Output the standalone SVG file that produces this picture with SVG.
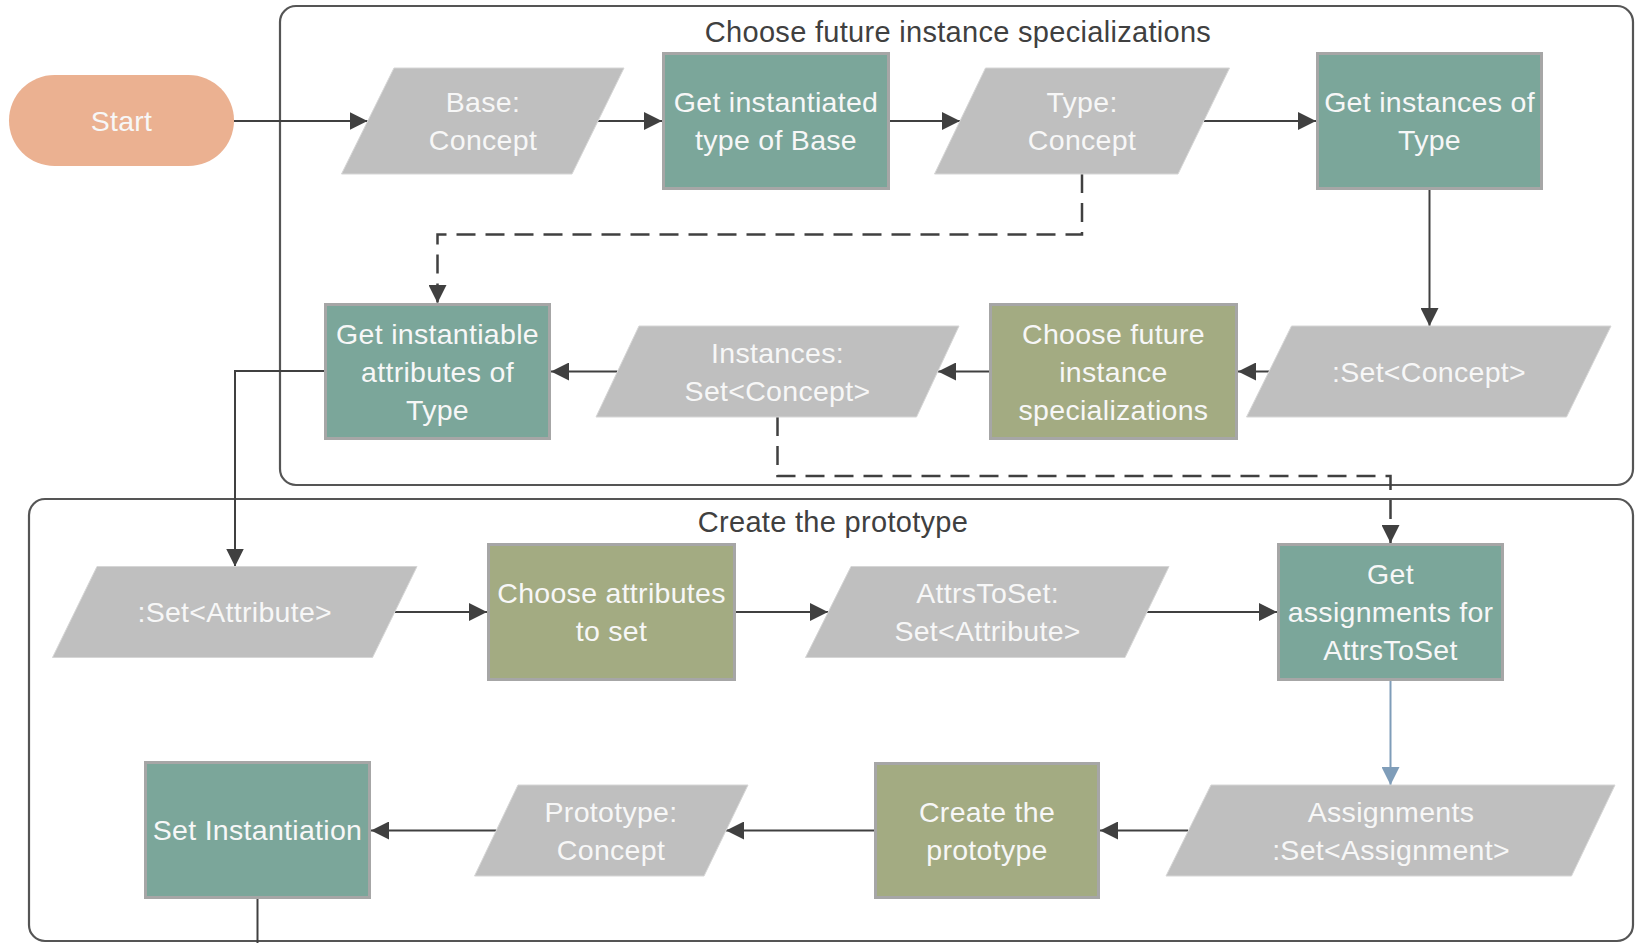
<svg xmlns="http://www.w3.org/2000/svg" width="1636" height="943" viewBox="0 0 1636 943">
<style>
text{font-family:"Liberation Sans",Arial,sans-serif;font-size:28.5px;letter-spacing:0.3px;text-anchor:middle}
.t{fill:#F7F7F7}
.title{fill:#404040;font-size:29px}
.box{stroke:#A6A6A6;stroke-width:3}
.teal{fill:#7BA69A}
.olive{fill:#A3AB82}
.data{fill:#BFBFBF;stroke:#D6D6D6;stroke-width:1}
.cont{fill:none;stroke:#555555;stroke-width:2.2}
.c{fill:none;stroke:#404040;stroke-width:2}
.d{stroke-dasharray:19 10;stroke-width:2.5}
.blue{stroke:#7F9DB9}
</style>
<defs>
<marker id="a" markerUnits="userSpaceOnUse" markerWidth="18" markerHeight="18" refX="18" refY="9" orient="auto"><path d="M0,0 L18,9 L0,18 z" fill="#404040"/></marker>
<marker id="ab" markerUnits="userSpaceOnUse" markerWidth="18" markerHeight="18" refX="18" refY="9" orient="auto"><path d="M0,0 L18,9 L0,18 z" fill="#7F9DB9"/></marker>
</defs>
<g id="container-choose">
<rect class="cont" x="280" y="6" width="1353" height="479" rx="16"/>
<text class="title" x="958" y="42">Choose future instance specializations</text>
</g>
<g id="container-create">
<rect class="cont" x="29" y="499" width="1604" height="442" rx="16"/>
<text class="title" x="833" y="532">Create the prototype</text>
</g>
<g id="connectors">
<path class="c" d="M234,121 H367.5" marker-end="url(#a)"/>
<path class="c" d="M598,121 H662" marker-end="url(#a)"/>
<path class="c" d="M890,121 H960" marker-end="url(#a)"/>
<path class="c" d="M1204,121 H1316" marker-end="url(#a)"/>
<path class="c" d="M1429.5,190 V326" marker-end="url(#a)"/>
<path class="c" d="M1269,371.5 H1238" marker-end="url(#a)"/>
<path class="c" d="M989,371.5 H938" marker-end="url(#a)"/>
<path class="c" d="M617.5,371.5 H551" marker-end="url(#a)"/>
<path class="c d" d="M1082,174 V234.5 H437.5 V303" marker-end="url(#a)"/>
<path class="c d" d="M777.5,417 V476 H1390.5 V543" marker-end="url(#a)"/>
<path class="c" d="M324,371 H235 V566.5" marker-end="url(#a)"/>
<path class="c" d="M395,612 H487" marker-end="url(#a)"/>
<path class="c" d="M736,612 H828" marker-end="url(#a)"/>
<path class="c" d="M1147,612 H1277" marker-end="url(#a)"/>
<path class="c blue" d="M1390.5,681 V785" marker-end="url(#ab)"/>
<path class="c" d="M1188,830.5 H1100" marker-end="url(#a)"/>
<path class="c" d="M874,830.5 H726" marker-end="url(#a)"/>
<path class="c" d="M496.5,830.5 H371" marker-end="url(#a)"/>
<path class="c" d="M257.5,899 V943"/>
</g>
<g id="start">
<rect x="9" y="75" width="225" height="91" rx="45.5" fill="#EBB191"/>
<text class="t" x="121.5" y="131">Start</text>
</g>
<g id="base">
<polygon class="data" points="394,68 624,68 572,174 341.5,174"/>
<text class="t" x="483" y="112">Base:</text>
<text class="t" x="483" y="150">Concept</text>
</g>
<g id="get-instantiated-type">
<rect class="box teal" x="663.5" y="53.5" width="225" height="135"/>
<text class="t" x="776" y="112">Get instantiated</text>
<text class="t" x="776" y="150">type of Base</text>
</g>
<g id="type">
<polygon class="data" points="985.5,68 1229.5,68 1178,174 934.5,174"/>
<text class="t" x="1082" y="112">Type:</text>
<text class="t" x="1082" y="150">Concept</text>
</g>
<g id="get-instances">
<rect class="box teal" x="1317.5" y="53.5" width="224" height="135"/>
<text class="t" x="1429.5" y="112">Get instances of</text>
<text class="t" x="1429.5" y="150">Type</text>
</g>
<g id="set-concept">
<polygon class="data" points="1291.5,326 1611,326 1566.5,417 1246.5,417"/>
<text class="t" x="1429" y="381.5">:Set&lt;Concept&gt;</text>
</g>
<g id="choose-future">
<rect class="box olive" x="990.5" y="304.5" width="246" height="134"/>
<text class="t" x="1113.5" y="343.5">Choose future</text>
<text class="t" x="1113.5" y="381.5">instance</text>
<text class="t" x="1113.5" y="419.5">specializations</text>
</g>
<g id="instances">
<polygon class="data" points="639,326 959,326 916.5,417 596,417"/>
<text class="t" x="777.5" y="362.5">Instances:</text>
<text class="t" x="777.5" y="400.5">Set&lt;Concept&gt;</text>
</g>
<g id="get-instantiable">
<rect class="box teal" x="325.5" y="304.5" width="224" height="134"/>
<text class="t" x="437.5" y="343.5">Get instantiable</text>
<text class="t" x="437.5" y="381.5">attributes of</text>
<text class="t" x="437.5" y="419.5">Type</text>
</g>
<g id="set-attribute">
<polygon class="data" points="97,566.5 417,566.5 372.5,657.5 52.5,657.5"/>
<text class="t" x="234.75" y="622">:Set&lt;Attribute&gt;</text>
</g>
<g id="choose-attributes">
<rect class="box olive" x="488.5" y="544.5" width="246" height="135"/>
<text class="t" x="611.5" y="603">Choose attributes</text>
<text class="t" x="611.5" y="641">to set</text>
</g>
<g id="attrs-to-set">
<polygon class="data" points="851,566.5 1169,566.5 1125,657.5 805.5,657.5"/>
<text class="t" x="987.6" y="603">AttrsToSet:</text>
<text class="t" x="987.6" y="641">Set&lt;Attribute&gt;</text>
</g>
<g id="get-assignments">
<rect class="box teal" x="1278.5" y="544.5" width="224" height="135"/>
<text class="t" x="1390.5" y="584">Get</text>
<text class="t" x="1390.5" y="622">assignments for</text>
<text class="t" x="1390.5" y="660">AttrsToSet</text>
</g>
<g id="assignments">
<polygon class="data" points="1211,785 1615,785 1571.5,876 1166,876"/>
<text class="t" x="1391" y="821.5">Assignments</text>
<text class="t" x="1391" y="859.5">:Set&lt;Assignment&gt;</text>
</g>
<g id="create-prototype">
<rect class="box olive" x="875.5" y="763.5" width="223" height="134"/>
<text class="t" x="987" y="821.5">Create the</text>
<text class="t" x="987" y="859.5">prototype</text>
</g>
<g id="prototype">
<polygon class="data" points="518,785 748,785 704,876 474.5,876"/>
<text class="t" x="611" y="821.5">Prototype:</text>
<text class="t" x="611" y="859.5">Concept</text>
</g>
<g id="set-instantiation">
<rect class="box teal" x="145.5" y="762.5" width="224" height="135"/>
<text class="t" x="257.5" y="840">Set Instantiation</text>
</g>
</svg>
